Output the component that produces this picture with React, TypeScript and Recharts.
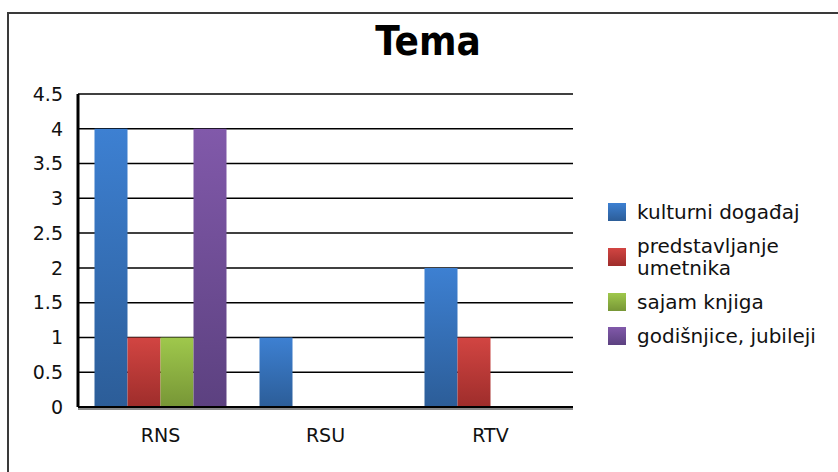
import React from 'react';
import { BarChart, Bar, XAxis, YAxis, CartesianGrid } from 'recharts';

const categories = ['RNS', 'RSU', 'RTV'];
const kulturniDogadjaj = [4, 1, 2];
const predstavljanjeUmetnika = [1, 0, 1];
const sajamKnjiga = [1, 0, 0];
const godisnjice = [4, 0, 0];
const yTicks = [0, 0.5, 1, 1.5, 2, 2.5, 3, 3.5, 4, 4.5];

const series = [
  { key: 'kulturni', name: 'kulturni događaj', lines: ['kulturni događaj'], top: '#3d80d2', bottom: '#2c5d98' },
  { key: 'predstavljanje', name: 'predstavljanje umetnika', lines: ['predstavljanje', 'umetnika'], top: '#d24542', bottom: '#9e2d2b' },
  { key: 'sajam', name: 'sajam knjiga', lines: ['sajam knjiga'], top: '#9fc84c', bottom: '#779636' },
  { key: 'godisnjice', name: 'godišnjice, jubileji', lines: ['godišnjice, jubileji'], top: '#8159aa', bottom: '#5c4180' },
];

const data = categories.map((c, i) => ({
  name: c,
  kulturni: kulturniDogadjaj[i],
  predstavljanje: predstavljanjeUmetnika[i],
  sajam: sajamKnjiga[i],
  godisnjice: godisnjice[i],
}));

const font = '"DejaVu Sans", sans-serif';

export default function App() {
  return (
    <div style={{ position: 'absolute', left: 0, top: 0, width: 838, height: 472, background: '#fff', overflow: 'hidden' }}>
      <div style={{ position: 'absolute', left: 7, top: 12, right: -10, bottom: -10, borderLeft: '2px solid #3a3a3a', borderTop: '2px solid #3a3a3a' }} />
      <div
        style={{
          position: 'absolute',
          left: 0,
          width: 856,
          top: 18,
          textAlign: 'center',
          fontFamily: '"DejaVu Sans Condensed", "DejaVu Sans", sans-serif',
          fontWeight: 700,
          fontSize: 40,
          color: '#000',
        }}
      >
        Tema
      </div>
      {/* soft shadow under the category axis */}
      <div style={{ position: 'absolute', left: 78, top: 408, width: 495, height: 2, background: '#8a8a8a' }} />
      <BarChart
        width={838}
        height={472}
        data={data}
        margin={{ top: 94, right: 265, bottom: 25, left: 18 }}
        barGap={0}
        barCategoryGap="10%"
        style={{ position: 'absolute', left: 0, top: 0 }}
      >
        <defs>
          {series.map((s) => (
            <linearGradient key={s.key} id={`g-${s.key}`} x1="0" y1="0" x2="0" y2="1">
              <stop offset="0%" stopColor={s.top} />
              <stop offset="100%" stopColor={s.bottom} />
            </linearGradient>
          ))}
        </defs>
        <CartesianGrid vertical={false} stroke="#000" strokeWidth={1.5} />
        <XAxis
          dataKey="name"
          height={40}
          axisLine={{ stroke: '#000', strokeWidth: 2 }}
          tickLine={false}
          tickMargin={16}
          tick={{ fontFamily: font, fontSize: 19, fill: '#111' }}
        />
        <YAxis
          domain={[0, 4.5]}
          ticks={yTicks}
          width={60}
          axisLine={{ stroke: '#000', strokeWidth: 3 }}
          tickLine={false}
          tickMargin={9}
          interval={0}
          tick={{ fontFamily: font, fontSize: 19, fill: '#111' }}
        />
        {series.map((s) => (
          <Bar key={s.key} dataKey={s.key} name={s.name} fill={`url(#g-${s.key})`} isAnimationActive={false} />
        ))}
      </BarChart>
      <div style={{ position: 'absolute', left: 608, top: 201, width: 230, fontFamily: font, fontSize: 20, color: '#111', lineHeight: '22px' }}>
        {series.map((s) => (
          <div key={s.key} style={{ display: 'flex', alignItems: 'center', marginBottom: 12 }}>
            <div style={{ width: 18, height: 18, marginRight: 11, flexShrink: 0, background: `linear-gradient(${s.top}, ${s.bottom})` }} />
            <div>
              {s.lines.map((l) => (
                <div key={l} style={{ whiteSpace: 'nowrap' }}>{l}</div>
              ))}
            </div>
          </div>
        ))}
      </div>
    </div>
  );
}
